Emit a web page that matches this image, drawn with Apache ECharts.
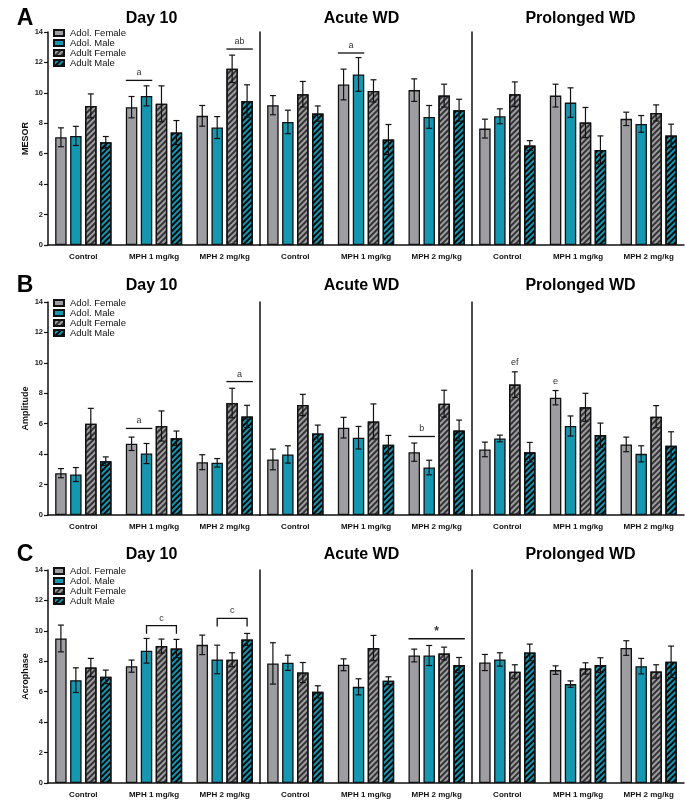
<!DOCTYPE html>
<html>
<head>
<meta charset="utf-8">
<script src="https://cdn.jsdelivr.net/npm/echarts@6/dist/echarts.min.js"></script>
<style>
html, body { margin: 0; padding: 0; background: #fff; }
#main { width: 685px; height: 800px; }
</style>
</head>
<body>
<div id="main"></div>
<script>
var categories = ['Control', 'MPH 1 mg/kg', 'MPH 2 mg/kg'];
var sections = ['Day 10', 'Acute WD', 'Prolonged WD'];
var groups = ['Adol. Female', 'Adol. Male', 'Adult Female', 'Adult Male'];
var yTicks = [0, 2, 4, 6, 8, 10, 12, 14];

// each array: Day 10 (Control, MPH 1, MPH 2), Acute WD (...), Prolonged WD (...)
var mesorAdolFemale = [7.08, 9.06, 8.49, 9.19, 10.55, 10.18, 7.65, 9.82, 8.29];
var mesorAdolFemaleSem = [0.62, 0.70, 0.68, 0.63, 1.01, 0.74, 0.62, 0.75, 0.44];
var mesorAdolMale = [7.17, 9.80, 7.72, 8.09, 11.21, 8.42, 8.46, 9.36, 7.96];
var mesorAdolMaleSem = [0.63, 0.66, 0.72, 0.77, 1.11, 0.75, 0.49, 0.97, 0.55];
var mesorAdultFemale = [9.14, 9.28, 11.58, 9.91, 10.13, 9.82, 9.91, 8.05, 8.68];
var mesorAdultFemaleSem = [0.79, 1.18, 0.90, 0.84, 0.73, 0.75, 0.81, 0.99, 0.53];
var mesorAdultMale = [6.75, 7.39, 9.47, 8.64, 6.93, 8.86, 6.54, 6.25, 7.19];
var mesorAdultMaleSem = [0.38, 0.79, 1.06, 0.50, 0.99, 0.72, 0.32, 0.92, 0.75];

var ampAdolFemale = [2.75, 4.68, 3.47, 3.65, 5.74, 4.13, 4.31, 7.71, 4.64];
var ampAdolFemaleSem = [0.30, 0.44, 0.49, 0.68, 0.68, 0.60, 0.48, 0.47, 0.48];
var ampAdolMale = [2.66, 4.04, 3.43, 3.98, 5.08, 3.12, 5.03, 5.85, 4.02];
var ampAdolMaleSem = [0.46, 0.66, 0.28, 0.57, 0.74, 0.48, 0.22, 0.66, 0.53];
var ampAdultFemale = [6.00, 5.85, 7.36, 7.23, 6.15, 7.32, 8.57, 7.08, 6.46];
var ampAdultFemaleSem = [1.01, 0.99, 0.97, 0.70, 1.15, 0.88, 0.84, 0.92, 0.73];
var ampAdultMale = [3.54, 5.05, 6.48, 5.36, 4.62, 5.56, 4.13, 5.25, 4.55];
var ampAdultMaleSem = [0.28, 0.47, 0.73, 0.55, 0.61, 0.68, 0.64, 0.79, 0.92];

var acroAdolFemale = [9.50, 7.68, 9.08, 7.86, 7.77, 8.38, 7.92, 7.42, 8.87];
var acroAdolFemaleSem = [0.88, 0.40, 0.64, 1.36, 0.39, 0.42, 0.53, 0.28, 0.48];
var acroAdolMale = [6.76, 8.69, 8.12, 7.90, 6.32, 8.38, 8.12, 6.50, 7.68];
var acroAdolMaleSem = [0.81, 0.81, 0.94, 0.50, 0.53, 0.66, 0.44, 0.21, 0.51];
var acroAdultFemale = [7.59, 9.00, 8.10, 7.26, 8.87, 8.51, 7.31, 7.53, 7.33];
var acroAdultFemaleSem = [0.60, 0.46, 0.46, 0.66, 0.83, 0.42, 0.46, 0.37, 0.44];
var acroAdultMale = [6.98, 8.84, 9.44, 5.99, 6.72, 7.75, 8.58, 7.75, 7.97];
var acroAdultMaleSem = [0.44, 0.60, 0.39, 0.40, 0.26, 0.50, 0.55, 0.48, 1.03];

// significance marks: [section, category, fromBar, toBar, y, text, kind] kind 0 line, 1 bracket, 2 text only
var mesorSig = [[0, 1, 0, 1, 10.82, 'a', 0], [0, 2, 2, 3, 12.88, 'ab', 0], [1, 1, 0, 1, 12.62, 'a', 0]];
var ampSig = [[0, 1, 0, 1, 5.69, 'a', 0], [0, 2, 2, 3, 8.77, 'a', 0], [1, 2, 0, 1, 5.16, 'b', 0],
              [2, 0, 2, 2, 9.7, 'ef', 2], [2, 1, 0, 0, 8.46, 'e', 2]];
var acroSig = [[0, 1, 1, 3, 10.34, 'c', 1], [0, 2, 1, 3, 10.82, 'c', 1], [1, 2, 0, 3, 9.48, '*', 0]];

var panels = [
    { letter: 'A', yName: 'MESOR', sig: mesorSig,
      means: [mesorAdolFemale, mesorAdolMale, mesorAdultFemale, mesorAdultMale],
      sems: [mesorAdolFemaleSem, mesorAdolMaleSem, mesorAdultFemaleSem, mesorAdultMaleSem] },
    { letter: 'B', yName: 'Amplitude', sig: ampSig,
      means: [ampAdolFemale, ampAdolMale, ampAdultFemale, ampAdultMale],
      sems: [ampAdolFemaleSem, ampAdolMaleSem, ampAdultFemaleSem, ampAdultMaleSem] },
    { letter: 'C', yName: 'Acrophase', sig: acroSig,
      means: [acroAdolFemale, acroAdolMale, acroAdultFemale, acroAdultMale],
      sems: [acroAdolFemaleSem, acroAdolMaleSem, acroAdultFemaleSem, acroAdultMaleSem] }
];

// layout
var panelTops = [32, 302, 570];
var panelTitleY = [18.5, 286, 555];
var titleX = [151.5, 361.5, 580.5];
var gridH = 213, axisLeft = 48, sectionW = 212;
var barW = 11.5, barStep = barW * 1.3;
var FONT = 'Arial, "Liberation Sans", sans-serif';

var gray = '#9e9ea2', teal = '#1497b1';
function hatch(c) {
    return { symbol: 'rect', symbolSize: 1, dashArrayX: [1, 0], dashArrayY: [2, 2],
             rotation: -Math.PI / 4, color: c };
}
var barStyles = [
    { color: gray, borderColor: '#111', borderWidth: 1.3 },
    { color: teal, borderColor: '#111', borderWidth: 1.3 },
    { color: gray, borderColor: '#111', borderWidth: 1.3, decal: hatch('rgba(40,40,40,0.9)') },
    { color: teal, borderColor: '#111', borderWidth: 1.3, decal: hatch('rgba(0,0,0,0.95)') }
];

function renderErr(params, api) {
    var cat = api.value(0), k = api.value(1), m = api.value(2), e = api.value(3);
    var x = api.coord([cat, m])[0] + (k - 1.5) * barStep;
    var top = api.coord([cat, m + e])[1], bot = api.coord([cat, m - e])[1];
    var st = { stroke: '#111', lineWidth: 1.2 };
    return { type: 'group', children: [
        { type: 'line', shape: { x1: x, y1: top, x2: x, y2: bot }, style: st },
        { type: 'line', shape: { x1: x - 3, y1: top, x2: x + 3, y2: top }, style: st },
        { type: 'line', shape: { x1: x - 3, y1: bot, x2: x + 3, y2: bot }, style: st }
    ] };
}

function makeSigRender(list) {
    return function (params, api) {
        var s = list[params.dataIndex];
        var c = api.coord([s[1], s[4]]);
        var kids = [], x1, x2, y = c[1];
        if (s[6] === 1) {
            x1 = c[0] + (s[2] - 1.5) * barStep;
            x2 = c[0] + (s[3] - 1.5) * barStep;
            kids.push({ type: 'polyline', shape: { points: [[x1, y + 8], [x1, y], [x2, y], [x2, y + 8]] },
                        style: { stroke: '#111', lineWidth: 1.3, fill: null } });
        } else {
            x1 = c[0] + (s[2] - 1.5) * barStep - barW / 2;
            x2 = c[0] + (s[3] - 1.5) * barStep + barW / 2;
            if (s[6] === 0) {
                kids.push({ type: 'line', shape: { x1: x1, y1: y, x2: x2, y2: y },
                            style: { stroke: '#111', lineWidth: 1.3 } });
            }
        }
        var star = s[5] === '*';
        kids.push({ type: 'text', style: {
            text: s[5], x: (x1 + x2) / 2, y: s[6] === 2 ? y : y - (star ? 1 : 3),
            align: 'center', verticalAlign: 'bottom', textAlign: 'center', textVerticalAlign: 'bottom',
            font: (star ? 'bold 12px ' : '9px ') + FONT, fill: '#333' } });
        return { type: 'group', children: kids };
    };
}

var grids = [], xAxes = [], yAxes = [], series = [], legends = [], graphics = [];

panels.forEach(function (p, pi) {
    graphics.push({ type: 'text', style: { text: p.letter, x: 25, y: panelTitleY[pi],
        align: 'center', verticalAlign: 'middle', textAlign: 'center', textVerticalAlign: 'middle',
        font: 'bold 23px ' + FONT, fill: '#000' } });
    legends.push({ data: groups, orient: 'vertical', left: 53, top: panelTops[pi] - 4, padding: 0,
        itemWidth: 10, itemHeight: 6, itemGap: 0, icon: 'rect', selectedMode: false,
        textStyle: { fontSize: 9.5, lineHeight: 9.7, color: '#111', fontFamily: FONT, padding: [0, 0, 0, 1] } });

    sections.forEach(function (sec, si) {
        var gi = grids.length;
        graphics.push({ type: 'text', style: { text: sec, x: titleX[si], y: panelTitleY[pi],
            align: 'center', verticalAlign: 'middle', textAlign: 'center', textVerticalAlign: 'middle',
            font: 'bold 16px ' + FONT, fill: '#000' } });
        grids.push({ left: axisLeft + si * sectionW, top: panelTops[pi], width: sectionW, height: gridH });
        xAxes.push({
            type: 'category', gridIndex: gi, data: categories,
            axisLine: { lineStyle: { color: '#111', width: 1.5 } },
            axisTick: { alignWithLabel: true, length: 4, lineStyle: { color: '#111', width: 1.2 } },
            axisLabel: { fontSize: 8, fontWeight: 'bold', color: '#111', margin: 8, fontFamily: FONT, interval: 0 }
        });
        yAxes.push({
            type: 'value', gridIndex: gi, min: yTicks[0], max: yTicks[yTicks.length - 1],
            interval: yTicks[1] - yTicks[0],
            axisLine: { show: true, lineStyle: { color: '#111', width: 1.5 } },
            axisTick: { show: si === 0, length: 4, lineStyle: { color: '#111', width: 1.2 } },
            axisLabel: { show: si === 0, fontSize: 7.5, fontWeight: 'bold', color: '#222', margin: 5, fontFamily: FONT },
            splitLine: { show: false },
            name: si === 0 ? p.yName : '', nameLocation: 'middle', nameGap: 18,
            nameTextStyle: { fontSize: 9, fontWeight: 'bold', color: '#111', fontFamily: FONT }
        });

        var errData = [];
        groups.forEach(function (g, k) {
            var vals = p.means[k].slice(si * 3, si * 3 + 3);
            var sems = p.sems[k].slice(si * 3, si * 3 + 3);
            series.push({ type: 'bar', name: g, xAxisIndex: gi, yAxisIndex: gi, data: vals,
                barWidth: barW, barGap: '30%', itemStyle: barStyles[k], silent: true });
            vals.forEach(function (v, c) { errData.push([c, k, v, sems[c]]); });
        });
        series.push({ type: 'custom', xAxisIndex: gi, yAxisIndex: gi, data: errData,
            renderItem: renderErr, z: 5, silent: true });

        var sigs = p.sig.filter(function (s) { return s[0] === si; });
        if (sigs.length) {
            series.push({ type: 'custom', xAxisIndex: gi, yAxisIndex: gi,
                data: sigs.map(function (s) { return [s[1], s[4]]; }),
                renderItem: makeSigRender(sigs), z: 6, silent: true, clip: false });
        }
    });
});

var myChart = echarts.init(document.getElementById('main'));
myChart.setOption({
    animation: false,
    backgroundColor: '#fff',
    grid: grids,
    xAxis: xAxes,
    yAxis: yAxes,
    legend: legends,
    graphic: graphics,
    series: series
});
</script>
</body>
</html>
